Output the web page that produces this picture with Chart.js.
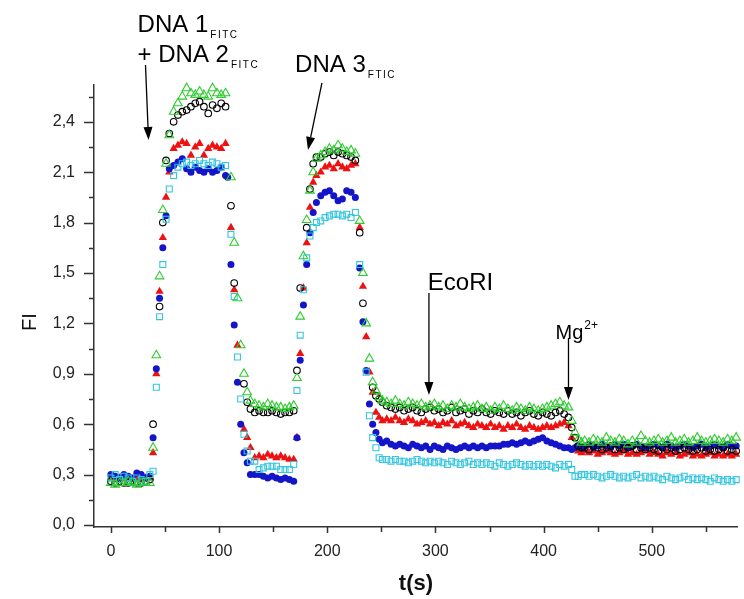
<!DOCTYPE html>
<html>
<head>
<meta charset="utf-8">
<script src="https://cdn.jsdelivr.net/npm/chart.js@4/dist/chart.umd.min.js"></script>
<style>
  html, body { margin: 0; padding: 0; background: #fff; overflow: hidden; }
  canvas { display: block; }
</style>
</head>
<body>
<canvas id="fi" width="744" height="599"></canvas>
<script>
// sampling times (s), shared by all five traces
const times = [
  0, 4, 8, 12, 16, 20, 24, 28, 32, 36,
  39, 42, 45, 48, 51, 54,
  58, 62, 66, 70, 74, 78, 82, 86, 90, 94, 98, 102, 106,
  108, 111, 114, 117, 120, 123, 126, 129,
  133, 137, 141, 145, 149, 153, 157, 161, 165, 169,
  172, 175, 178, 181, 184, 187, 190,
  194, 198, 202, 206, 210, 214, 218, 222, 226,
  230, 233, 236, 239, 242, 245, 248, 251,
  255, 259, 263, 267, 271, 275, 279, 283, 287, 291, 295, 299, 303, 307, 311, 315, 319, 323, 327, 331, 335, 339,
  343, 347, 351, 355, 359, 363, 367, 371, 375, 379, 383, 387, 391, 395, 399, 403, 407, 411, 415, 419, 423,
  426, 429, 432, 435,
  438, 442, 446, 450, 454, 458, 462, 466, 470, 474, 478, 482, 486, 490, 494, 498, 502, 506,
  510, 514, 518, 522, 526, 530, 534, 538, 542, 546, 550, 554, 558, 562, 566, 570, 574, 578
];

// fluorescence intensity per trace (null = no reading at that time)
const fiBlack = [
  0.26, 0.25, 0.26, 0.25, 0.25, 0.26, 0.25, 0.25, 0.26, 0.27,
  0.60, null, 1.30, 1.80, 2.17, 2.33,
  2.40, 2.44, 2.46, 2.47, 2.49, 2.51, 2.52, 2.49, 2.45, 2.50, 2.48, 2.51, 2.49,
  null, 1.90, 1.44, null, null, 0.84, 0.73, 0.69,
  0.67, 0.68, 0.67, 0.67, 0.68, 0.67, 0.66, 0.67, 0.67, 0.68,
  0.92, 1.41, null, 1.77, 2.00, 2.15, 2.19,
  2.19, 2.21, 2.22, 2.20, 2.22, 2.21, 2.20, 2.19, 2.17,
  1.74, 1.32, null, null, 0.82, 0.77, 0.75, 0.73,
  0.71, 0.70, 0.69, 0.70, 0.68, 0.69, 0.70, 0.68, 0.67, 0.69, 0.70, 0.68, 0.69, 0.67, 0.68, 0.70, 0.67, 0.68, 0.69, 0.66,
  0.68, 0.67, 0.69, 0.67, 0.66, 0.68, 0.67, 0.66, 0.68, 0.66, 0.67, 0.65, 0.67, 0.68, 0.66, 0.65, 0.67, 0.66, 0.65, 0.67,
  0.68, 0.66, 0.64,
  0.58, 0.52, 0.47, 0.46,
  0.46, 0.45, 0.47, 0.46, 0.45, 0.46, 0.47, 0.45, 0.46, 0.45, 0.46, 0.47, 0.45, 0.46, 0.45, 0.46, 0.45, 0.44,
  0.46, 0.45, 0.46, 0.44, 0.45, 0.46, 0.45, 0.44, 0.45, 0.46, 0.44, 0.45, 0.44, 0.45, 0.46, 0.44, 0.45, 0.44
];
const fiRed = [
  0.28, 0.27, 0.28, 0.29, 0.28, 0.27, 0.28, 0.27, 0.28, 0.28,
  0.43, 0.90, 1.39, 1.71, 1.95, 2.10,
  2.24, 2.26, 2.28, 2.27, 2.20, 2.25, 2.27, 2.20, 2.24, 2.26, 2.25, 2.24, 2.27,
  null, 1.77, 1.40, 1.07, null, 0.57, 0.52, 0.46,
  0.40, 0.41, 0.40, 0.42, 0.41, 0.40, 0.41, 0.40, 0.39, 0.39,
  0.52, 1.02, 1.41, 1.68, 1.89, 2.04, 2.08,
  2.10, 2.13, 2.14, 2.12, 2.15, 2.13, 2.12, 2.14, 2.15,
  1.77, 1.42, 1.12, 0.91, 0.79, 0.67, 0.64, 0.62,
  0.63, 0.62, 0.64, 0.62, 0.61, 0.63, 0.62, 0.60, 0.61, 0.62, 0.60, 0.61, 0.59, 0.61, 0.60, 0.62, 0.59, 0.60, 0.61, 0.59,
  0.58, 0.60, 0.59, 0.58, 0.60, 0.58, 0.59, 0.57, 0.59, 0.58, 0.60, 0.58, 0.57, 0.59, 0.58, 0.57, 0.58, 0.59, 0.58, 0.59,
  0.60, 0.61, 0.59,
  0.52, 0.46, 0.44, 0.43,
  0.44, 0.43, 0.44, 0.42, 0.43, 0.44, 0.43, 0.42, 0.43, 0.44, 0.42, 0.43, 0.42, 0.43, 0.44, 0.42, 0.43, 0.42,
  0.41, 0.43, 0.42, 0.43, 0.41, 0.42, 0.43, 0.41, 0.42, 0.41, 0.42, 0.43, 0.41, 0.42, 0.41, 0.42, 0.41, 0.42
];
const fiBlue = [
  0.30, 0.29, 0.28, 0.30, 0.29, 0.28, 0.31, 0.30, 0.28, 0.29,
  0.52, 0.93, 1.35, 1.65, 1.84, 2.12,
  2.14, 2.16, 2.18, 2.12, 2.10, 2.13, 2.11, 2.10, 2.12, 2.10, 2.11, 2.13, 2.08,
  2.07, 1.55, 1.19, 0.85, 0.60, 0.43, 0.37, 0.30,
  0.30, 0.30, 0.29, 0.28, 0.29, 0.28, 0.27, 0.28, 0.27, 0.26,
  0.52, 0.98, 1.31, 1.55, 1.74, 1.86, 1.92,
  1.96, 1.98, 1.99, 1.96, 1.93, 1.94, 1.99, 1.98, 1.95,
  1.53, 1.21, 0.92, 0.72, 0.60, 0.55, 0.51, 0.49,
  0.50, 0.48, 0.47, 0.48, 0.47, 0.46, 0.48, 0.47, 0.46, 0.47, 0.45, 0.47, 0.46, 0.45, 0.47, 0.46, 0.45, 0.46, 0.47, 0.46,
  0.47, 0.46, 0.47, 0.46, 0.47, 0.47, 0.47, 0.48, 0.48, 0.49, 0.48, 0.49, 0.50, 0.49, 0.50, 0.51, 0.52, 0.50, 0.49, 0.48,
  0.47, 0.46, 0.46,
  0.45, 0.46, 0.47, 0.46,
  0.47, 0.48, 0.46, 0.47, 0.48, 0.47, 0.46, 0.48, 0.47, 0.48, 0.46, 0.47, 0.48, 0.47, 0.46, 0.47, 0.48, 0.47,
  0.46, 0.48, 0.47, 0.46, 0.47, 0.48, 0.47, 0.46, 0.47, 0.48, 0.46, 0.47, 0.48, 0.47, 0.46, 0.48, 0.47, 0.47
];
const fiCyan = [
  0.28, 0.30, 0.27, 0.29, 0.28, 0.26, 0.28, 0.27, 0.26, 0.30,
  0.32, 0.82, 1.24, 1.55, 1.82, 2.00,
  2.08, 2.13, 2.15, 2.16, 2.14, 2.15, 2.17, 2.15, 2.14, 2.16, 2.15, 2.13, 2.14,
  null, 1.73, 1.36, 1.00, 0.75, 0.54, 0.44, 0.38,
  0.38, 0.33, 0.34, 0.35, 0.35, 0.35, 0.33, 0.33, 0.33, 0.36,
  0.80, 1.13, 1.40, 1.59, 1.72, 1.77, 1.80,
  1.81, 1.83, 1.84, 1.85, 1.85, 1.84, 1.85, 1.83, 1.86,
  1.55, null, 0.91, 0.65, 0.52, 0.46, 0.40, 0.39,
  0.39, 0.38, 0.39, 0.38, 0.38, 0.37, 0.38, 0.39, 0.38, 0.37, 0.38, 0.37, 0.38, 0.37, 0.36, 0.38, 0.37, 0.36, 0.37, 0.38,
  0.36, 0.37, 0.36, 0.37, 0.36, 0.35, 0.37, 0.36, 0.35, 0.36, 0.37, 0.36, 0.35, 0.36, 0.35, 0.36, 0.35, 0.36, 0.35, 0.34,
  0.36, 0.35, 0.36,
  0.33, 0.29, 0.29, 0.30,
  0.30, 0.29, 0.30, 0.29, 0.28, 0.29, 0.30, 0.29, 0.28, 0.29, 0.28, 0.29, 0.30, 0.28, 0.29, 0.28, 0.29, 0.28,
  0.27, 0.29, 0.28, 0.27, 0.28, 0.29, 0.27, 0.28, 0.27, 0.28, 0.27, 0.26, 0.28, 0.27, 0.26, 0.27, 0.26, 0.27
];
const fiGreen = [
  0.25, 0.24, 0.25, 0.25, 0.26, 0.25, 0.24, 0.25, 0.25, 0.25,
  0.46, 1.01, 1.48, 1.875, 2.15, 2.32,
  2.46, 2.51, 2.55, 2.60, 2.57, 2.56, 2.58, 2.56, 2.55, 2.60, 2.57, 2.56, 2.57,
  null, 2.07, 1.68, 1.35, 1.07, 0.90, 0.79, 0.74,
  0.72, 0.71, 0.70, 0.72, 0.71, 0.70, 0.70, 0.69, 0.70, 0.71,
  0.875, 1.24, 1.60, 1.815, 1.99, 2.10, 2.18,
  2.20, 2.22, 2.24, 2.23, 2.26, 2.24, 2.22, 2.23, 2.21,
  1.81, 1.50, 1.20, 0.99, 0.85, 0.80, 0.76, 0.74,
  0.73, 0.72, 0.74, 0.72, 0.71, 0.73, 0.72, 0.71, 0.72, 0.70, 0.71, 0.72, 0.70, 0.71, 0.69, 0.71, 0.70, 0.72, 0.70, 0.69,
  0.70, 0.71, 0.69, 0.70, 0.68, 0.70, 0.69, 0.71, 0.69, 0.68, 0.70, 0.69, 0.68, 0.70, 0.69, 0.68, 0.69, 0.70, 0.71, 0.72,
  0.73, 0.71, 0.70,
  0.62, 0.55, 0.51, 0.49,
  0.50, 0.49, 0.51, 0.50, 0.49, 0.52, 0.50, 0.49, 0.51, 0.50, 0.48, 0.50, 0.49, 0.53, 0.50, 0.49, 0.50, 0.51,
  0.49, 0.50, 0.52, 0.49, 0.50, 0.51, 0.49, 0.50, 0.52, 0.50, 0.49, 0.50, 0.51, 0.50, 0.49, 0.51, 0.50, 0.52
];

// axis ticks
const xTicks = [0, 100, 200, 300, 400, 500];
const xMinor = [50, 150, 250, 350, 450, 550];
const yTicks = [0, 0.3, 0.6, 0.9, 1.2, 1.5, 1.8, 2.1, 2.4];
const yMinor = [0.15, 0.45, 0.75, 1.05, 1.35, 1.65, 1.95, 2.25, 2.55];

// event labels and arrows, in (t, FI) units
const noteLabels = [
  { t: 24.7, fi: 2.935, text: 'DNA 1', sub: 'FITC', size: 24 },
  { t: 24.7, fi: 2.756, text: '+ DNA 2', sub: 'FITC', size: 24 },
  { t: 170.3, fi: 2.696, text: 'DNA 3', sub: 'FTIC', size: 24 },
  { t: 293.0, fi: 1.400, text: 'EcoRI', size: 24 },
  { t: 411.0, fi: 1.107, text: 'Mg', sup: '2+', size: 20 },
];
const noteArrows = [
  { from: [32.0, 2.738], to: [34.8, 2.292] },
  { from: [195.1, 2.631], to: [182.2, 2.232] },
  { from: [294.0, 1.381], to: [294.0, 0.774] },
  { from: [423.0, 1.113], to: [423.0, 0.744] },
];

const AXIS = '#333';
const FONT = '"Liberation Sans", Arial, sans-serif';

function points(ys) {
  const out = [];
  ys.forEach((v, i) => { if (v !== null) out.push({ x: times[i], y: v }); });
  return out;
}

const tickMarks = {
  id: 'tickMarks',
  afterDraw(chart) {
    const { ctx, chartArea, scales: { x, y } } = chart;
    ctx.save();
    ctx.strokeStyle = AXIS;
    ctx.lineWidth = 1.5;
    ctx.beginPath();
    const down = (v, len) => {
      const px = Math.round(x.getPixelForValue(v)) + 0.5;
      ctx.moveTo(px, chartArea.bottom);
      ctx.lineTo(px, chartArea.bottom + len);
    };
    const left = (v, len) => {
      const py = Math.round(y.getPixelForValue(v)) + 0.5;
      ctx.moveTo(chartArea.left, py);
      ctx.lineTo(chartArea.left - len, py);
    };
    xTicks.forEach(v => down(v, 6));
    xMinor.forEach(v => down(v, 5));
    yTicks.forEach(v => left(v, 10));
    yMinor.forEach(v => left(v, 5));
    ctx.stroke();

    // y axis title
    ctx.fillStyle = '#111';
    ctx.font = '20px ' + FONT;
    ctx.textAlign = 'center';
    ctx.textBaseline = 'middle';
    ctx.translate(30, (chartArea.top + chartArea.bottom) / 2 + 16);
    ctx.rotate(-Math.PI / 2);
    ctx.fillText('FI', 0, 0);
    ctx.restore();
  }
};

const eventNotes = {
  id: 'eventNotes',
  afterDraw(chart) {
    const { ctx, scales: { x, y } } = chart;
    ctx.save();
    ctx.fillStyle = '#000';
    ctx.strokeStyle = '#000';
    ctx.textAlign = 'left';
    ctx.textBaseline = 'alphabetic';

    noteLabels.forEach(n => {
      const px = x.getPixelForValue(n.t);
      const py = y.getPixelForValue(n.fi);
      ctx.font = n.size + 'px ' + FONT;
      ctx.fillText(n.text, px, py);
      const w = ctx.measureText(n.text).width;
      if (n.sub) {
        ctx.font = '10px ' + FONT;
        if ('letterSpacing' in ctx) ctx.letterSpacing = '1.5px';
        ctx.fillText(n.sub, px + w + 2, py + 6);
        if ('letterSpacing' in ctx) ctx.letterSpacing = '0px';
      }
      if (n.sup) {
        ctx.font = '12px ' + FONT;
        ctx.fillText(n.sup, px + w + 1, py - 10);
      }
    });

    ctx.lineWidth = 1.3;
    noteArrows.forEach(a => {
      const x0 = x.getPixelForValue(a.from[0]), y0 = y.getPixelForValue(a.from[1]);
      const x1 = x.getPixelForValue(a.to[0]), y1 = y.getPixelForValue(a.to[1]);
      const ang = Math.atan2(y1 - y0, x1 - x0);
      const head = 13, half = 4.5;
      const bx = x1 - head * Math.cos(ang), by = y1 - head * Math.sin(ang);
      ctx.beginPath();
      ctx.moveTo(x0, y0);
      ctx.lineTo(bx, by);
      ctx.stroke();
      ctx.beginPath();
      ctx.moveTo(x1, y1);
      ctx.lineTo(bx + half * Math.sin(ang), by - half * Math.cos(ang));
      ctx.lineTo(bx - half * Math.sin(ang), by + half * Math.cos(ang));
      ctx.closePath();
      ctx.fill();
    });
    ctx.restore();
  }
};

const tickFont = { family: FONT, size: 16 };

new Chart(document.getElementById('fi').getContext('2d'), {
  type: 'scatter',
  data: {
    datasets: [
      { label: 'green', data: points(fiGreen), order: 1, pointStyle: 'triangle', radius: 5,
        backgroundColor: 'rgba(0,0,0,0)', borderColor: '#2fcc2f', borderWidth: 1.1 },
      { label: 'cyan', data: points(fiCyan), order: 2, pointStyle: 'rect', radius: 4.2,
        backgroundColor: 'rgba(0,0,0,0)', borderColor: '#33c6e0', borderWidth: 1.1 },
      { label: 'black', data: points(fiBlack), order: 3, pointStyle: 'circle', radius: 3.3,
        backgroundColor: 'rgba(0,0,0,0)', borderColor: '#000', borderWidth: 1.1 },
      { label: 'blue', data: points(fiBlue), order: 4, pointStyle: 'circle', radius: 3.5,
        backgroundColor: '#1414c8', borderColor: '#1414c8', borderWidth: 0 },
      { label: 'red', data: points(fiRed), order: 5, pointStyle: 'triangle', radius: 4.8,
        backgroundColor: '#ee1111', borderColor: '#ee1111', borderWidth: 0 },
    ]
  },
  options: {
    responsive: false,
    animation: false,
    events: [],
    clip: false,
    layout: { padding: { top: 85, right: 0, bottom: 0, left: 0 } },
    plugins: { legend: { display: false }, tooltip: { enabled: false } },
    scales: {
      x: {
        type: 'linear',
        min: -15.6,
        max: 579.6,
        afterFit: s => { s.height = 72; },
        afterBuildTicks: s => { s.ticks = xTicks.map(v => ({ value: v })); },
        grid: { display: false, drawTicks: true, tickLength: 6 },
        border: { display: true, color: AXIS, width: 1.5 },
        ticks: { font: tickFont, color: '#222', padding: 9, maxRotation: 0, autoSkip: false,
                 callback: v => String(v) },
        title: { display: true, text: 't(s)', color: '#111',
                 font: { family: FONT, size: 22, weight: 'bold' }, padding: { top: 0, bottom: 2 } }
      },
      y: {
        type: 'linear',
        min: -0.012,
        max: 2.619,
        afterFit: s => { s.width = 94; },
        afterBuildTicks: s => { s.ticks = yTicks.map(v => ({ value: v })); },
        grid: { display: false, drawTicks: true, tickLength: 10 },
        border: { display: true, color: AXIS, width: 1.5 },
        ticks: { font: tickFont, color: '#222', padding: 9, autoSkip: false,
                 callback: v => v.toFixed(1).replace('.', ',') }
      }
    }
  },
  plugins: [tickMarks, eventNotes]
});
</script>
</body>
</html>
